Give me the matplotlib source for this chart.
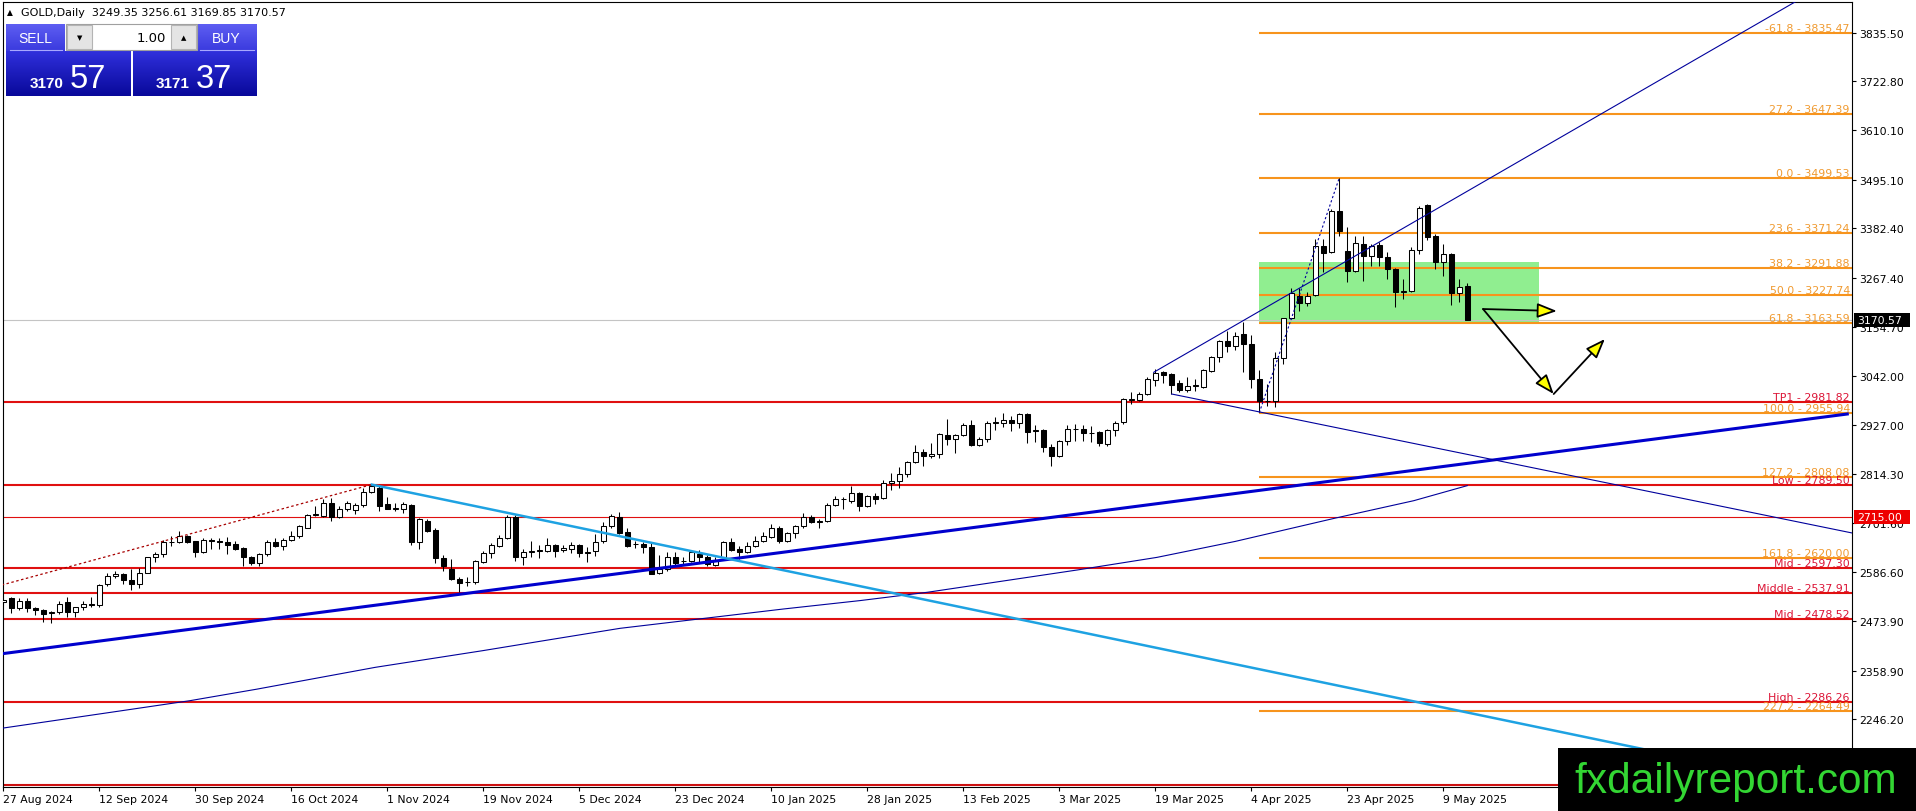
import numpy as np
import matplotlib
matplotlib.use("Agg")
import matplotlib.pyplot as plt
import matplotlib.transforms as mtransforms
from matplotlib.patches import Rectangle, FancyArrowPatch
from matplotlib.colors import LinearSegmentedColormap

plt.rcParams['font.family'] = ['DejaVu Sans']

# ---- daily candles, bar 0 = 27 Aug 2024 ... bar 183 = 14 May 2025 ----
opens = [2517, 2526, 2503, 2519, 2504, 2499, 2492, 2494, 2517, 2495,
         2505, 2514, 2510, 2559, 2577, 2582, 2568, 2559, 2586, 2621,
         2628, 2656, 2656, 2671, 2658, 2633, 2662, 2658, 2657, 2652,
         2643, 2621, 2607, 2629, 2657, 2648, 2662, 2671, 2690, 2720,
         2717, 2748, 2714, 2734, 2731, 2742, 2773, 2781, 2744, 2734,
         2734, 2742, 2657, 2706, 2684, 2619, 2594, 2572, 2563, 2563,
         2611, 2631, 2648, 2667, 2714, 2623, 2634, 2636, 2636, 2649,
         2637, 2640, 2649, 2631, 2636, 2660, 2694, 2715, 2679, 2651,
         2652, 2644, 2584, 2594, 2621, 2612, 2613, 2629, 2621, 2604,
         2623, 2656, 2640, 2633, 2647, 2660, 2668, 2690, 2659, 2677,
         2694, 2714, 2702, 2706, 2743, 2756, 2752, 2769, 2741, 2762,
         2758, 2794, 2798, 2814, 2841, 2866, 2855, 2860, 2905, 2896,
         2904, 2927, 2881, 2896, 2933, 2931, 2939, 2933, 2953, 2914,
         2916, 2876, 2855, 2891, 2918, 2918, 2910, 2912, 2883, 2916,
         2934, 2986, 2986, 2999, 3032, 3049, 3045, 3025, 3009, 3018,
         3016, 3053, 3086, 3121, 3111, 3138, 3115, 3035, 2982, 2982,
         3082, 3174, 3225, 3209, 3228, 3341, 3327, 3422, 3330, 3285,
         3346, 3319, 3344, 3316, 3289, 3236, 3238, 3333, 3437, 3364,
         3304, 3323, 3234, 3249.35]
highs = [2524, 2530, 2528, 2528, 2507, 2502, 2497, 2519, 2529, 2507,
         2519, 2530, 2560, 2585, 2589, 2585, 2594, 2596, 2622, 2633,
         2662, 2670, 2683, 2673, 2660, 2667, 2665, 2665, 2669, 2659,
         2645, 2625, 2631, 2662, 2665, 2665, 2683, 2696, 2722, 2739,
         2756, 2758, 2740, 2752, 2748, 2781, 2790, 2788, 2760, 2747,
         2750, 2745, 2713, 2710, 2689, 2626, 2618, 2575, 2575, 2616,
         2636, 2654, 2673, 2718, 2718, 2640, 2660, 2650, 2665, 2652,
         2650, 2657, 2651, 2646, 2675, 2702, 2722, 2725, 2690, 2660,
         2657, 2654, 2626, 2633, 2633, 2621, 2639, 2637, 2626, 2621,
         2660, 2665, 2648, 2656, 2671, 2679, 2698, 2694, 2679, 2696,
         2724, 2718, 2711, 2746, 2762, 2760, 2787, 2772, 2765, 2770,
         2800, 2817, 2830, 2845, 2882, 2873, 2886, 2910, 2941, 2906,
         2931, 2939, 2900, 2936, 2947, 2955, 2949, 2955, 2956, 2927,
         2918, 2883, 2893, 2927, 2930, 2927, 2926, 2914, 2918, 2937,
         2990, 3003, 3003, 3038, 3057, 3053, 3047, 3032, 3038, 3034,
         3056, 3088, 3124, 3146, 3142, 3165, 3136, 3055, 3022, 3097,
         3175, 3244, 3245, 3235, 3358, 3358, 3428, 3500, 3385, 3366,
         3366, 3346, 3350, 3327, 3290, 3265, 3339, 3435, 3440, 3370,
         3346, 3325, 3265, 3256.61]
lows = [2510, 2492, 2500, 2494, 2488, 2472, 2470, 2490, 2484, 2484,
        2500, 2507, 2507, 2555, 2574, 2559, 2545, 2549, 2584, 2611,
        2621, 2648, 2655, 2655, 2623, 2630, 2640, 2640, 2629, 2638,
        2602, 2604, 2602, 2625, 2644, 2637, 2658, 2667, 2688, 2717,
        2714, 2706, 2713, 2728, 2721, 2738, 2770, 2729, 2733, 2729,
        2723, 2650, 2640, 2679, 2609, 2590, 2569, 2540, 2554, 2560,
        2608, 2619, 2645, 2664, 2613, 2604, 2623, 2619, 2633, 2621,
        2634, 2631, 2623, 2611, 2625, 2654, 2690, 2674, 2644, 2642,
        2631, 2582, 2582, 2590, 2602, 2606, 2611, 2609, 2600, 2602,
        2621, 2636, 2617, 2631, 2644, 2656, 2665, 2654, 2657, 2667,
        2690, 2700, 2688, 2703, 2740, 2734, 2748, 2729, 2737, 2745,
        2755, 2778, 2781, 2806, 2839, 2833, 2852, 2852, 2880, 2863,
        2903, 2878, 2878, 2889, 2917, 2922, 2914, 2920, 2886, 2889,
        2866, 2832, 2853, 2880, 2891, 2891, 2889, 2878, 2878, 2903,
        2930, 2976, 2983, 2997, 3018, 3025, 3000, 3003, 3003, 3007,
        3013, 3051, 3074, 3097, 3102, 3051, 3012, 2957, 2972, 2968,
        3068, 3172, 3192, 3204, 3227, 3281, 3325, 3364, 3258, 3281,
        3261, 3296, 3296, 3265, 3200, 3219, 3236, 3323, 3356, 3288,
        3273, 3205, 3213, 3169.85]
closes = [2522, 2503, 2519, 2503, 2499, 2491, 2495, 2514, 2495, 2505,
          2514, 2510, 2558, 2577, 2582, 2568, 2559, 2586, 2621, 2628,
          2656, 2656, 2671, 2657, 2633, 2662, 2658, 2657, 2650, 2640,
          2621, 2607, 2629, 2657, 2648, 2662, 2671, 2693, 2720, 2722,
          2748, 2714, 2734, 2746, 2742, 2773, 2787, 2741, 2734, 2735,
          2745, 2657, 2710, 2683, 2619, 2600, 2571, 2562, 2563, 2613,
          2631, 2650, 2667, 2714, 2623, 2633, 2636, 2637, 2650, 2636,
          2643, 2649, 2631, 2633, 2657, 2694, 2716, 2677, 2647, 2652,
          2644, 2583, 2594, 2621, 2609, 2613, 2633, 2621, 2606, 2615,
          2656, 2639, 2634, 2647, 2660, 2671, 2688, 2659, 2677, 2694,
          2714, 2702, 2706, 2743, 2756, 2756, 2769, 2739, 2762, 2757,
          2794, 2798, 2814, 2841, 2866, 2855, 2860, 2907, 2896, 2904,
          2927, 2881, 2896, 2933, 2934, 2939, 2933, 2953, 2912, 2915,
          2876, 2856, 2891, 2918, 2918, 2910, 2909, 2886, 2916, 2932,
          2988, 2986, 2999, 3035, 3047, 3043, 3020, 3009, 3018, 3019,
          3055, 3084, 3121, 3111, 3133, 3114, 3035, 2982, 2984, 3082,
          3174, 3234, 3209, 3225, 3341, 3325, 3422, 3377, 3285, 3348,
          3318, 3341, 3316, 3289, 3236, 3238, 3333, 3429, 3362, 3304,
          3323, 3234, 3248, 3170.57]

date_labels = ["27 Aug 2024", "12 Sep 2024", "30 Sep 2024", "16 Oct 2024",
               "1 Nov 2024", "19 Nov 2024", "5 Dec 2024", "23 Dec 2024",
               "10 Jan 2025", "28 Jan 2025", "13 Feb 2025", "3 Mar 2025",
               "19 Mar 2025", "4 Apr 2025", "23 Apr 2025", "9 May 2025"]
date_bars = [0, 12, 24, 36, 48, 60, 72, 84, 96, 108, 120, 132, 144, 156, 168, 180]

price_ticks = [3835.50, 3722.80, 3610.10, 3495.10, 3382.40, 3267.40, 3154.70,
               3042.00, 2927.00, 2814.30, 2701.60, 2586.60, 2473.90, 2358.90, 2246.20]

current_price = 3170.57
marked_price = 2715.00

fib_levels = [-61.8, 27.2, 0.0, 23.6, 38.2, 50.0, 61.8, 100.0, 127.2, 161.8, 227.2]
fib_prices = [3835.47, 3647.39, 3499.53, 3371.24, 3291.88, 3227.74, 3163.59,
              2955.94, 2808.08, 2620.00, 2264.49]
fib_start_bar = 157
fib_anchor_bars = [157, 167]
fib_anchor_prices = [2955.94, 3499.53]

level_names = ["TP1", "Low", "Mid", "Middle", "Mid", "High"]
level_prices = [2981.82, 2789.50, 2597.30, 2537.91, 2478.52, 2286.26]
bottom_level = 2094.0

zone_bars = [157, 192]
zone_prices = [3163.59, 3305.0]

# thin blue moving average
ma_bars = [0, 14.4, 23.3, 31.7, 46.5, 59.9, 67.5, 77.1, 97.5, 107.1, 115.5,
           134.3, 144.2, 154.0, 166.4, 176.3, 183]
ma_values = [2226.0, 2265.0, 2289.2, 2316.0, 2366.5, 2405.0, 2428.0, 2456.8,
             2501.5, 2521.0, 2540.2, 2592.0, 2621.0, 2658.0, 2711.5, 2752.2, 2787.1]

# trend lines: (bars, prices)
support_bars = [-0.2, 230.5]
support_prices = [2397.9, 2952.9]
falling_bars = [46.05, 215.0]
falling_prices = [2789.5, 2138.7]
dotted_bars = [-0.2, 46.05]
dotted_prices = [2557.0, 2789.5]
channel_up_bars = [143.8, 224.0]
channel_up_prices = [3049.4, 3907.0]
channel_dn_bars = [146.05, 231.1]
channel_dn_prices = [2999.2, 2677.5]

# projected path arrows
arrow_start = [(184.97, 3195.9), (184.97, 3195.9), (193.8, 2999.2)]
arrow_end = [(194.2, 3191.3), (193.8, 2999.2), (200.2, 3126.5)]

W, H = 1916, 812
fig = plt.figure(figsize=(W / 100, H / 100), dpi=100)
fig.patch.set_facecolor('white')

# chart frame in pixels
fl, fr, ft, fb = 2.7, 1852.0, 2.7, 788.3
ax = fig.add_axes([fl / W, 1 - fb / H, (fr - fl) / W, (fb - ft) / H])
ax.set_xlim(-0.075, 231.09)
ax.set_ylim(2088.8, 3907.3)
for s in ax.spines.values():
    s.set_color('black')
    s.set_linewidth(0.8)

ax.add_patch(Rectangle((zone_bars[0], zone_prices[0]), zone_bars[1] - zone_bars[0],
                       zone_prices[1] - zone_prices[0], fc='#90ee90', ec='none', zorder=0.5))

ax.axhline(current_price, color='#c4c4c4', lw=0.8, zorder=1)

xmax = ax.get_xlim()[1]
ax.hlines(fib_prices, fib_start_bar, xmax, colors='#f7941d', lw=1.5, zorder=2)
for p in level_prices:
    ax.axhline(p, color='#e01010', lw=1.5, zorder=2)
ax.axhline(marked_price, color='#e01010', lw=0.8, zorder=2)
ax.axhline(bottom_level, color='#cc1010', lw=1.5, zorder=2)

lab_tr = mtransforms.blended_transform_factory(ax.transAxes, ax.transData)
for lvl, p in zip(fib_levels, fib_prices):
    ax.text(0.9988, p, f"{lvl:.1f} - {p:.2f}", transform=lab_tr, ha='right', va='bottom',
            color='#f09a30', fontsize=7.9, zorder=6)
for name, p in zip(level_names, level_prices):
    ax.text(0.9988, p, f"{name} - {p:.2f}", transform=lab_tr, ha='right', va='bottom',
            color='#dc1436', fontsize=7.9, zorder=6)

# candles
bars = np.arange(len(closes))
o, h, l, c = map(np.array, (opens, highs, lows, closes))
up = c >= o
body = np.maximum(np.abs(c - o), 0.6)
ax.vlines(bars, l, h, color='black', lw=0.75, zorder=4)
ax.bar(bars[up], body[up], bottom=o[up], width=0.6, color='white',
       edgecolor='black', linewidth=0.75, zorder=5)
ax.bar(bars[~up], body[~up], bottom=c[~up], width=0.6, color='black',
       edgecolor='black', linewidth=0.75, zorder=5)

# drawn objects
ax.plot(ma_bars, ma_values, color='#00009a', lw=0.8, zorder=3)
ax.plot(support_bars, support_prices, color='#0000cd', lw=2.2, zorder=6)
ax.plot(falling_bars, falling_prices, color='#1ea2e2', lw=1.8, zorder=6)
ax.plot(dotted_bars, dotted_prices, color='#a80000', lw=0.9, ls=(0, (2, 2)), zorder=6)
ax.plot(channel_up_bars, channel_up_prices, color='#00009c', lw=0.8, zorder=6)
ax.plot(channel_dn_bars, channel_dn_prices, color='#00009c', lw=0.8, zorder=6)
ax.plot(fib_anchor_bars, fib_anchor_prices, color='#00009c', lw=0.8, ls=(0, (2, 2)), zorder=6)

for a, b in zip(arrow_start, arrow_end):
    ax.add_patch(FancyArrowPatch(a, b, arrowstyle='-|>,head_length=12,head_width=4.5',
                                 mutation_scale=1, fc='#ffff00', ec='black', lw=1.3,
                                 shrinkA=0, shrinkB=0, zorder=8))

# axes ticks
ax.set_xticks(date_bars)
ax.set_xticklabels(date_labels, ha='left', fontsize=7.85)
ax.yaxis.tick_right()
ax.set_yticks(price_ticks)
ax.set_yticklabels([f"{v:.2f}" for v in price_ticks], fontsize=7.85)
ax.tick_params(axis='x', length=3, pad=2, width=0.8)
ax.tick_params(axis='y', length=3, pad=2, width=0.8)

# ---- overlay in screen pixels ----
ov = fig.add_axes([0, 0, 1, 1])
ov.set_xlim(0, W)
ov.set_ylim(H, 0)
ov.axis('off')


def price_y(p):
    return H - ax.transData.transform((0, p))[1]


for p, col in [(current_price, 'black'), (marked_price, '#ee0000')]:
    y = price_y(p)
    ov.add_patch(Rectangle((1854, y - 6.8), 56, 13.6, fc=col, ec='none', zorder=5))
    ov.text(1857.5, y, f"{p:.2f}", color='white', fontsize=7.85, va='center', ha='left', zorder=6)


def grad_box(x0, y0, x1, y1, top, bottom):
    cmap = LinearSegmentedColormap.from_list('g', [top, bottom])
    ov.imshow(np.linspace(0, 1, 64).reshape(-1, 1), cmap=cmap, extent=(x0, x1, y1, y0),
              aspect='auto', interpolation='bilinear', zorder=10)


# trade panel
grad_box(6, 25, 65, 52, '#5e5ef2', '#3a3ade')
grad_box(197, 25, 257, 52, '#5e5ef2', '#3a3ade')
grad_box(6, 52.5, 130.7, 97, '#3030dc', '#08089a')
grad_box(133.3, 52.5, 257, 97, '#3030dc', '#08089a')
ov.plot([10, 62], [51.3, 51.3], color='#a8a8ff', lw=0.8, zorder=11)
ov.plot([200, 254], [51.3, 51.3], color='#a8a8ff', lw=0.8, zorder=11)
ov.add_patch(Rectangle((66, 25), 131, 26, fc='white', ec='#a0a0a0', lw=0.8, zorder=11))
ov.add_patch(Rectangle((67, 26), 25, 24, fc='#e4e4e4', ec='#b4b4b4', lw=0.8, zorder=12))
ov.add_patch(Rectangle((171, 26), 25, 24, fc='#e4e4e4', ec='#b4b4b4', lw=0.8, zorder=12))
ov.text(79.5, 38.5, '▼', fontsize=5, ha='center', va='center', zorder=13)
ov.text(183.5, 38, '▲', fontsize=5, ha='center', va='center', zorder=13)
ov.text(166, 38.5, '1.00', fontsize=9.5, ha='right', va='center', zorder=13)
ov.text(35, 39, 'SELL', fontsize=10, color='white', ha='center', va='center',
        family='Liberation Sans', zorder=13)
ov.text(226, 39, 'BUY', fontsize=10, color='white', ha='center', va='center',
        family='Liberation Sans', zorder=13)
ov.text(64, 87.5, '3170', fontsize=11, weight='bold', color='white', ha='right',
        va='baseline', family='Liberation Sans', zorder=13)
ov.text(70, 88, '57', fontsize=23.5, color='white', ha='left', va='baseline',
        family='Liberation Sans', zorder=13)
ov.text(190, 87.5, '3171', fontsize=11, weight='bold', color='white', ha='right',
        va='baseline', family='Liberation Sans', zorder=13)
ov.text(196, 88, '37', fontsize=23.5, color='white', ha='left', va='baseline',
        family='Liberation Sans', zorder=13)

# header
ov.text(10, 12.5, '▲', fontsize=5.5, ha='center', va='center', zorder=13)
ov.text(21.5, 13, 'GOLD,Daily  3249.35 3256.61 3169.85 3170.57', fontsize=8,
        ha='left', va='center', zorder=13)

# watermark
ov.add_patch(Rectangle((1558, 749), W - 1558, H - 749, fc='black', ec='none', zorder=20))
ov.text(1736, 782, 'fxdailyreport.com', color='#33d633', fontsize=30.5,
        family='Liberation Sans', ha='center', va='center', zorder=21)

fig.savefig('out.png', dpi=100)
